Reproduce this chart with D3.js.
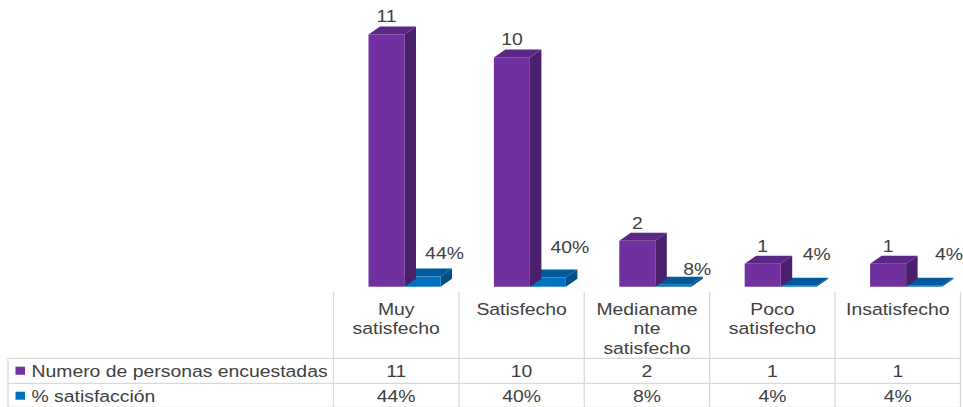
<!DOCTYPE html>
<html>
<head>
<meta charset="utf-8">
<script src="https://cdn.jsdelivr.net/npm/d3@7/dist/d3.min.js"></script>
<style>
  html, body { margin: 0; padding: 0; background: #fff; }
  svg { display: block; }
  text { font-family: "Liberation Sans", Arial, sans-serif; fill: #404040; }
</style>
</head>
<body>
<script>
// Survey results: number of respondents and satisfaction share per level
const categories = [["Muy", "satisfecho"], ["Satisfecho"], ["Medianame", "nte", "satisfecho"], ["Poco", "satisfecho"], ["Insatisfecho"]];
const seriesNames = ["Numero de personas encuestadas", "% satisfacción"];
const personas = [11, 10, 2, 1, 1];
const satisfaccion = [0.44, 0.40, 0.08, 0.04, 0.04];
const pctLabels = ["44%", "40%", "8%", "4%", "4%"];

// label nudges for the percentage labels (layout only)
const pctLabelShift = [[0, 0], [0, -7], [2, 8], [-4, -8], [3, -8]];

const W = 963, H = 407;
const colors = {
  purple: { front: "#7030A0", top: "#5C2887", side: "#4A1F6C" },
  blue:   { front: "#0070C0", top: "#005A9C", side: "#004E86" }
};
const FS = 17, SX = 1.14; // font size and horizontal text stretch

const svg = d3.select("body").append("svg").attr("width", W).attr("height", H);

const floorY = 286.7;
const y = d3.scaleLinear().domain([0, 12]).range([floorY, floorY - 12 * 22.93]);
const x = d3.scaleBand().domain(d3.range(categories.length)).range([333.5, 960.5]).paddingInner(0).paddingOuter(0);

const barOffset = 35, barW = 36, depthX = 11.5, depthY = -8;

function txt(g, str, px, py, anchor) {
  return g.append("text")
    .attr("transform", `translate(${px},${py}) scale(${SX},1)`)
    .attr("text-anchor", anchor || "middle")
    .style("font-size", FS + "px")
    .text(str);
}

function bar3d(g, x0, v, c) {
  const x1 = x0 + barW, yt = y(v), yb = y(0);
  // side face
  g.append("path")
    .attr("d", `M${x1},${yb}L${x1 + depthX},${yb + depthY}L${x1 + depthX},${yt + depthY}L${x1},${yt}Z`)
    .attr("fill", c.side);
  // top face
  g.append("path")
    .attr("d", `M${x0},${yt}L${x0 + depthX},${yt + depthY}L${x1 + depthX},${yt + depthY}L${x1},${yt}Z`)
    .attr("fill", c.top);
  // front face
  g.append("rect").attr("x", x0).attr("y", yt).attr("width", barW).attr("height", yb - yt).attr("fill", c.front);
}

const plot = svg.append("g");
categories.forEach((cat, i) => {
  const px = x(i) + barOffset;
  bar3d(plot, px + barW, satisfaccion[i], colors.blue);
  bar3d(plot, px, personas[i], colors.purple);
});

// value labels
categories.forEach((cat, i) => {
  const px = x(i) + barOffset;
  txt(plot, String(personas[i]), px + barW / 2, y(personas[i]) + depthY - 4);
  const bx = px + barW + barW / 2 + 22 + pctLabelShift[i][0];
  const by = y(satisfaccion[i]) + depthY - 10 + pctLabelShift[i][1];
  txt(plot, pctLabels[i], bx, by);
});

// data table
const table = svg.append("g");
const gridColor = "#D9D9D9";
const rowTop = 358.3, rowMid = 383.3, rowBot = 407.5, headTop = 292;
const left = 8;
const line = (x1, y1, x2, y2) => table.append("line")
  .attr("x1", x1).attr("y1", y1).attr("x2", x2).attr("y2", y2)
  .attr("stroke", gridColor).attr("stroke-width", 1.3);

[rowTop, rowMid, rowBot].forEach(yy => line(left, yy, x.range()[1], yy));
line(left, rowTop, left, rowBot);
d3.range(categories.length + 1).forEach(i => {
  const xx = i < categories.length ? x(i) : x.range()[1];
  line(xx, headTop, xx, rowBot);
});

// column headers
categories.forEach((cat, i) => {
  const cx = x(i) + x.bandwidth() / 2;
  cat.forEach((ln, k) => txt(table, ln, cx, 315 + k * 19.3));
});

// row labels with series keys
const keyColors = [colors.purple.front, colors.blue.front];
[376.7, 401.7].forEach((by, r) => {
  table.append("rect").attr("x", 15.5).attr("y", by - 10).attr("width", 9.5).attr("height", 8).attr("fill", keyColors[r]);
  txt(table, seriesNames[r], 31.5, by, "start");
});

// row values
categories.forEach((cat, i) => {
  const cx = x(i) + x.bandwidth() / 2;
  txt(table, String(personas[i]), cx, 376.7);
  txt(table, pctLabels[i], cx, 401.7);
});
</script>
</body>
</html>
